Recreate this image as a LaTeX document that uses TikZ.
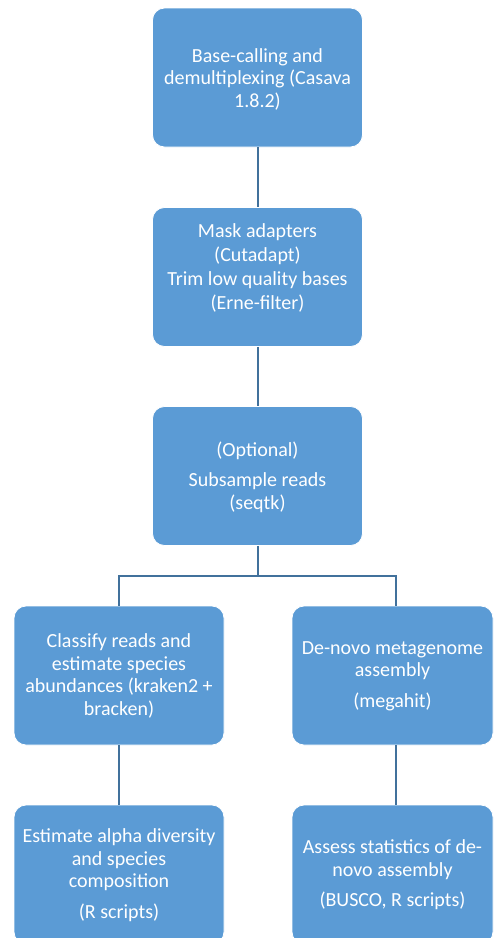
\documentclass[tikz,border=0pt]{standalone}
\usepackage{fontspec}
\setmainfont{Carlito}
\definecolor{boxfill}{HTML}{5B9BD5}
\definecolor{linecol}{HTML}{41719C}
\begin{document}
\begin{tikzpicture}[x=1pt,y=-1pt,
  stepbox/.style={draw=white,line width=0.8pt,fill=boxfill,rounded corners=12pt,minimum width=#1,minimum height=139pt,inner sep=0pt},
  stepbox/.default=210pt,
  txt/.style={text=white,align=center,font=\fontsize{20}{22.5}\selectfont,inner sep=0pt},
  conn/.style={draw=linecol,line width=2pt}]
\useasboundingbox (0,0) rectangle (494,938);
\clip (0,0) rectangle (494,938);
\fill[white] (0,0) rectangle (494,938);
\node[stepbox] (b1) at (257.5,77.5) {};
\node[stepbox] (b2) at (257.5,277) {};
\node[stepbox] (b3) at (257.5,476) {};
\node[stepbox] (l1) at (119,675.5) {};
\node[stepbox=201pt] (r1) at (392.5,675.5) {};
\node[stepbox] (l2) at (119,874.5) {};
\node[stepbox=201pt] (r2) at (392.5,874.5) {};
\node[txt] (t1) at (257.5,79) {Base-calling and\\demultiplexing (Casava\\1.8.2)};
\node[txt,font=\fontsize{20}{24}\selectfont] (t2) at (257.5,268) {Mask adapters\\(Cutadapt)\\Trim low quality bases\\(Erne-filter)};
\node[txt] (t3) at (257.5,477) {(Optional)\\[8pt]Subsample reads\\(seqtk)};
\node[txt] (tl1) at (119,676) {Classify reads and\\estimate species\\abundances (kraken2 +\\bracken)};
\node[txt] (tr1) at (392.5,676) {De-novo metagenome\\assembly\\[8pt](megahit)};
\node[txt] (tl2) at (119,875) {Estimate alpha diversity\\and species\\composition\\[8pt](R scripts)};
\node[txt] (tr2) at (392.5,875) {Assess statistics of de-\\novo assembly\\[8pt](BUSCO, R scripts)};
\coordinate (split) at (257.5,576);
\draw[conn] (b1.south) -- (b2.north);
\draw[conn] (b2.south) -- (b3.north);
\draw[conn] (b3.south) -- (split);
\draw[conn] (l1.north) |- (split) -| ([xshift=3.5pt]r1.north);
\draw[conn] (l1.south) -- (l2.north);
\draw[conn] ([xshift=3.5pt]r1.south) -- ([xshift=3.5pt]r2.north);
\end{tikzpicture}
\end{document}
